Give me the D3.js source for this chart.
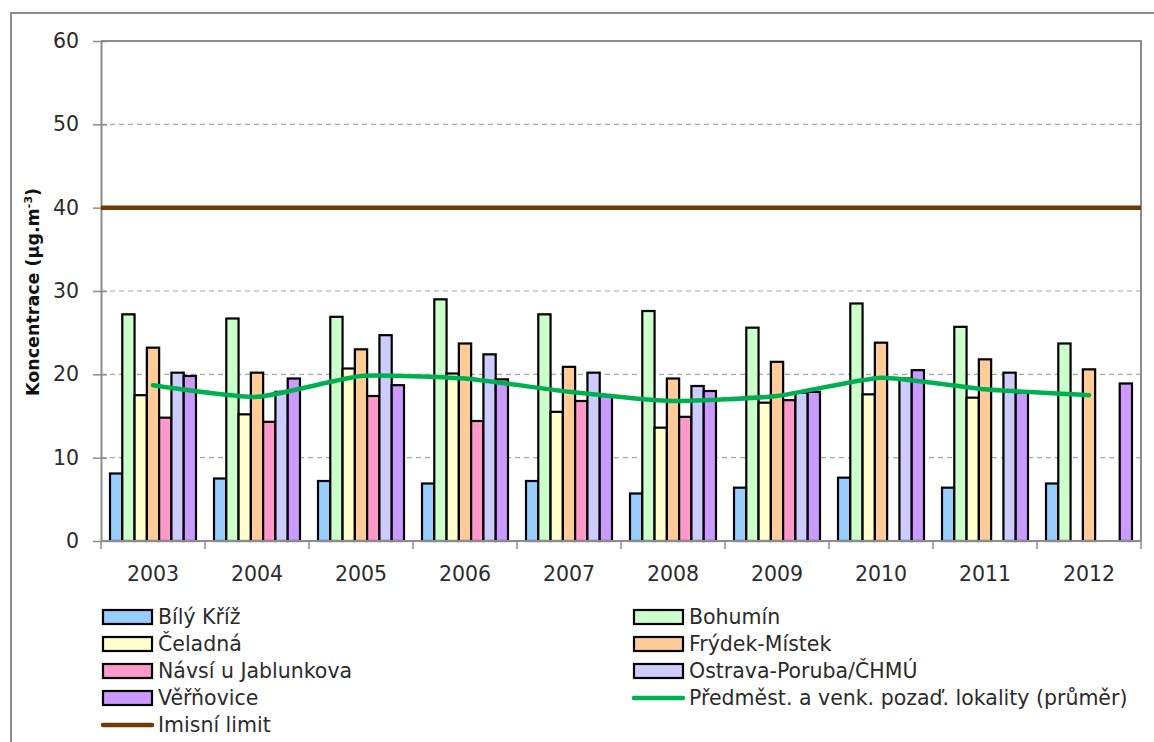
<!DOCTYPE html>
<html>
<head>
<meta charset="utf-8">
<script src="https://cdn.jsdelivr.net/npm/d3@7"></script>
<style>
  html, body { margin: 0; padding: 0; background: #fff; }
  svg { display: block; font-family: "DejaVu Sans", "Open Sans", sans-serif; }
</style>
</head>
<body>
<svg id="chart" width="1154" height="742"></svg>
<script>
// Annual mean concentrations per station (µg.m-3); null = no measurement
const years = ["2003", "2004", "2005", "2006", "2007", "2008", "2009", "2010", "2011", "2012"];
const stations = ["Bílý Kříž", "Bohumín", "Čeladná", "Frýdek-Místek", "Návsí u Jablunkova", "Ostrava-Poruba/ČHMÚ", "Věřňovice"];
const stationColors = ["#99CCFF", "#CCFFCC", "#FFFFCC", "#FFCC99", "#FF99CC", "#CCCCFF", "#CC99FF"];

const bilyKriz   = [8.1, 7.5, 7.2, 6.9, 7.2, 5.7, 6.4, 7.6, 6.4, 6.9];
const bohumin    = [27.2, 26.7, 26.9, 29.0, 27.2, 27.6, 25.6, 28.5, 25.7, 23.7];
const celadna    = [17.5, 15.2, 20.7, 20.1, 15.5, 13.6, 16.6, 17.6, 17.2, null];
const frydek     = [23.2, 20.2, 23.0, 23.7, 20.9, 19.5, 21.5, 23.8, 21.8, 20.6];
const navsi      = [14.8, 14.3, 17.4, 14.4, 16.8, 14.9, 16.9, null, null, null];
const poruba     = [20.2, 17.9, 24.7, 22.4, 20.2, 18.6, 17.8, 19.5, 20.2, null];
const verno      = [19.8, 19.5, 18.7, 19.4, 17.4, 18.0, 17.9, 20.5, 17.8, 18.9];

// Average of suburban and rural background sites
const backgroundAvg = [18.7, 17.3, 19.8, 19.5, 17.9, 16.8, 17.4, 19.6, 18.2, 17.5];
const limitValue = 40;
const yTicks = [0, 10, 20, 30, 40, 50, 60];

const seriesValues = [bilyKriz, bohumin, celadna, frydek, navsi, poruba, verno];

const svg = d3.select("#chart");
const plot = { left: 101, right: 1141, top: 41, bottom: 541 };
const textColor = "#2b2b2b";
const axisColor = "#8c8c8c";
const fontSize = "20.5px";

// outer chart frame
svg.append("rect")
  .attr("x", 11).attr("y", 13).attr("width", 1160).attr("height", 760)
  .attr("fill", "none").attr("stroke", axisColor).attr("stroke-width", 2);

const y = d3.scaleLinear().domain([0, 60]).range([plot.bottom, plot.top]);
const x0 = d3.scaleBand().domain(years).range([plot.left, plot.right])
  .paddingInner(18 / 104).paddingOuter(9 / 104);
const x1 = d3.scaleBand().domain(stations).range([0, x0.bandwidth()]);
const color = d3.scaleOrdinal().domain(stations).range(stationColors);

// horizontal dashed gridlines
svg.append("g").selectAll("line")
  .data(yTicks.filter(t => t > 0 && t < 60))
  .join("line")
  .attr("x1", plot.left).attr("x2", plot.right)
  .attr("y1", d => y(d)).attr("y2", d => y(d))
  .attr("stroke", "#a6a6a6").attr("stroke-width", 1.2)
  .attr("stroke-dasharray", "5,4");

// plot area top and right border
svg.append("path")
  .attr("d", `M${plot.left},${plot.top}H${plot.right}V${plot.bottom}`)
  .attr("fill", "none").attr("stroke", axisColor).attr("stroke-width", 2);

// bars
const groups = svg.append("g").selectAll("g")
  .data(years)
  .join("g")
  .attr("transform", d => `translate(${x0(d)},0)`);

groups.selectAll("rect")
  .data((yr, i) => stations.map((s, k) => ({ station: s, value: seriesValues[k][i] })).filter(d => d.value != null))
  .join("rect")
  .attr("x", d => x1(d.station))
  .attr("width", x1.bandwidth())
  .attr("y", d => y(d.value))
  .attr("height", d => y(0) - y(d.value))
  .attr("fill", d => color(d.station))
  .attr("stroke", "#000").attr("stroke-width", 2.2);

// y axis
const yAxis = d3.axisLeft(y).tickValues(yTicks).tickSize(0).tickPadding(22);
const yg = svg.append("g").attr("transform", `translate(${plot.left},0)`).call(yAxis);
yg.attr("font-family", null).attr("font-size", null);
yg.select(".domain").attr("stroke", axisColor).attr("stroke-width", 2);
yg.selectAll(".tick text").attr("fill", textColor).style("font-size", fontSize);
yg.selectAll(".tick").append("line")
  .attr("x1", -8).attr("x2", 6).attr("stroke", axisColor).attr("stroke-width", 1.5);

// x axis with ticks at category boundaries
const xg = svg.append("g");
xg.append("line")
  .attr("x1", plot.left).attr("x2", plot.right)
  .attr("y1", plot.bottom).attr("y2", plot.bottom)
  .attr("stroke", axisColor).attr("stroke-width", 2);
const step = x0.step();
xg.selectAll("line.tick")
  .data(d3.range(years.length + 1))
  .join("line").attr("class", "tick")
  .attr("x1", i => plot.left + i * step).attr("x2", i => plot.left + i * step)
  .attr("y1", plot.bottom).attr("y2", plot.bottom + 8)
  .attr("stroke", axisColor).attr("stroke-width", 1.5);
xg.selectAll("text")
  .data(years)
  .join("text")
  .attr("x", d => x0(d) + x0.bandwidth() / 2)
  .attr("y", 581)
  .attr("text-anchor", "middle")
  .attr("fill", textColor)
  .style("font-size", fontSize)
  .text(d => d);

// y axis title
const title = svg.append("text")
  .attr("transform", "translate(39,292) rotate(-90)")
  .attr("text-anchor", "middle")
  .attr("fill", "#111")
  .style("font-size", "17.5px").style("font-weight", "bold");
title.append("tspan").text("Koncentrace (µg.m");
title.append("tspan").attr("dy", -7).style("font-size", "11px").text("-3");
title.append("tspan").attr("dy", 7).text(")");

// limit line
svg.append("line")
  .attr("x1", plot.left).attr("x2", plot.right)
  .attr("y1", y(limitValue)).attr("y2", y(limitValue))
  .attr("stroke", "#733a06").attr("stroke-width", 4.5);

// average line (lightly smoothed)
const line = d3.line()
  .x((d, i) => x0(years[i]) + x0.bandwidth() / 2)
  .y(d => y(d))
  .curve(d3.curveCardinal.tension(0.5));
svg.append("path")
  .datum(backgroundAvg)
  .attr("d", line)
  .attr("fill", "none")
  .attr("stroke", "#00b050").attr("stroke-width", 4.5)
  .attr("stroke-linecap", "round");

// legend
const legendItems = [
  { label: stations[0], type: "bar", c: stationColors[0], col: 0, row: 0 },
  { label: stations[1], type: "bar", c: stationColors[1], col: 1, row: 0 },
  { label: stations[2], type: "bar", c: stationColors[2], col: 0, row: 1 },
  { label: stations[3], type: "bar", c: stationColors[3], col: 1, row: 1 },
  { label: stations[4], type: "bar", c: stationColors[4], col: 0, row: 2 },
  { label: stations[5], type: "bar", c: stationColors[5], col: 1, row: 2 },
  { label: stations[6], type: "bar", c: stationColors[6], col: 0, row: 3 },
  { label: "Předměst. a venk. pozaď. lokality (průměr)", type: "line", c: "#00b050", col: 1, row: 3 },
  { label: "Imisní limit", type: "line", c: "#733a06", col: 0, row: 4 }
];
const colX = [103, 634];
const rowY = r => 617 + r * 27;
const leg = svg.append("g").selectAll("g")
  .data(legendItems)
  .join("g")
  .attr("transform", d => `translate(${colX[d.col]},${rowY(d.row)})`);
leg.filter(d => d.type === "bar").append("rect")
  .attr("x", 0).attr("y", -7).attr("width", 49).attr("height", 14)
  .attr("fill", d => d.c).attr("stroke", "#000").attr("stroke-width", 2.2);
leg.filter(d => d.type === "line").append("line")
  .attr("x1", 0).attr("x2", 49).attr("y1", 0).attr("y2", 0)
  .attr("stroke", d => d.c).attr("stroke-width", 4.5).attr("stroke-linecap", "round");
leg.append("text")
  .attr("x", 55).attr("y", 0).attr("dy", "0.35em")
  .attr("fill", textColor)
  .style("font-size", fontSize)
  .text(d => d.label);
</script>
</body>
</html>
